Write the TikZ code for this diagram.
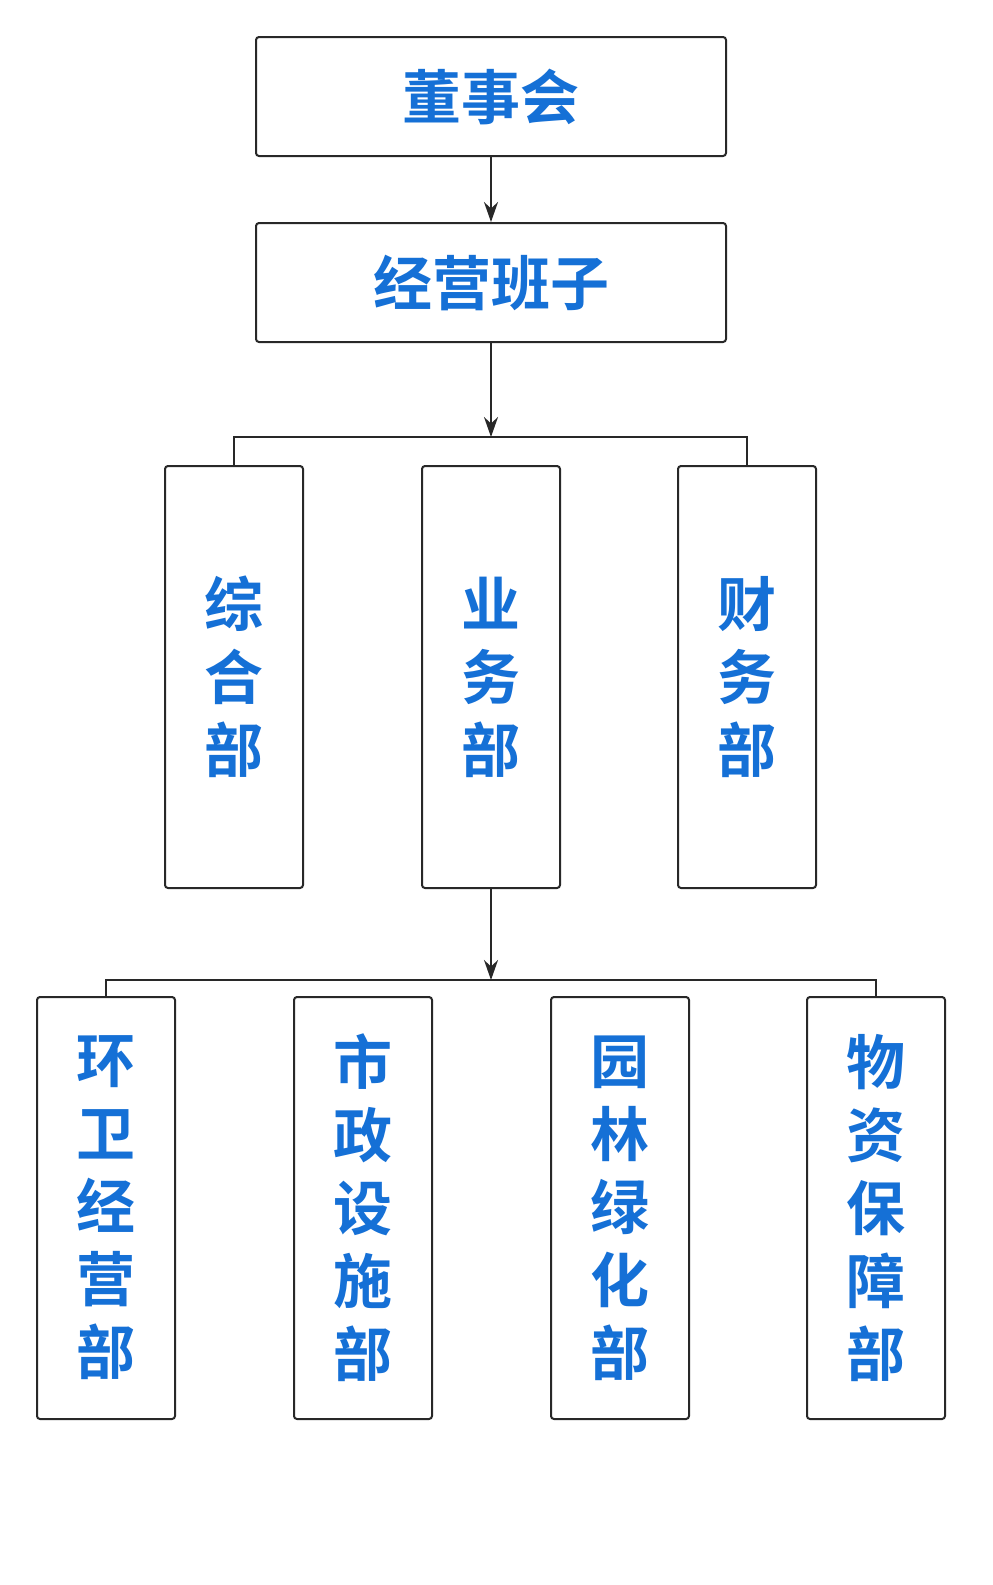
\documentclass[tikz,border=0pt]{standalone}
\usepackage{fontspec}
\newfontfamily\cjk{Noto Sans CJK SC Bold}
\usetikzlibrary{arrows.meta}
\definecolor{txtblue}{RGB}{21,112,214}
\definecolor{linegray}{RGB}{40,40,40}
\begin{document}
\begin{tikzpicture}[x=1pt,y=1pt,yscale=-1,
  box/.style={draw=linegray,line width=2,rounded corners=3,inner sep=0,
    font=\cjk\fontsize{59}{73}\selectfont,text=txtblue,align=center},
  wide/.style={box,minimum width=470,minimum height=119},
  tall/.style={box,minimum width=138,minimum height=422},
  link/.style={draw=linegray,line width=2},
  arr/.style={link,-{Stealth[length=20,width=14]}}]
\useasboundingbox[fill=white] (0,0) rectangle (993,1585);

% top level
\node[wide] (board) at (491,96.5) {董事会};
\node[wide] (mgmt) at (491,282.5) {经营班子};

% departments
\node[tall] (general) at (234,677) {综\\合\\部};
\node[tall] (business) at (491,677) {业\\务\\部};
\node[tall] (finance) at (747,677) {财\\务\\部};

% units
\node[tall] (sanit) at (106,1208) {环\\卫\\经\\营\\部};
\node[tall] (munic) at (363,1208) {市\\政\\设\\施\\部};
\node[tall] (green) at (620,1208) {园\\林\\绿\\化\\部};
\node[tall] (supply) at (876,1208) {物\\资\\保\\障\\部};

\coordinate (busA) at (491,437);
\coordinate (busB) at (491,980);

\draw[arr] (board) -- (mgmt);
\draw[arr] (mgmt) -- (busA);
\draw[link] (general.north) |- (busA) -| (finance.north);
\draw[arr] (business.south) -- (busB);
\draw[link] (sanit.north) |- (busB) -| (supply.north);
\end{tikzpicture}
\end{document}
